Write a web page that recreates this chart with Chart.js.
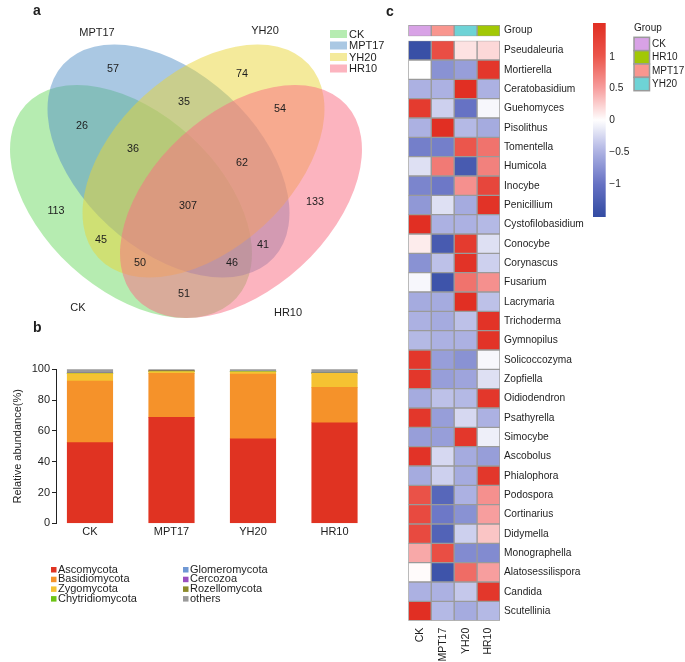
<!DOCTYPE html>
<html><head><meta charset="utf-8">
<script src="https://cdn.jsdelivr.net/npm/chart.js@4.4.1/dist/chart.umd.min.js"></script>
<style>
html,body{margin:0;padding:0;background:#fff;}
body{width:685px;height:662px;position:relative;overflow:hidden;}
canvas{position:absolute;}
</style></head><body>
<canvas id="cVenn" width="400" height="325" style="left:0;top:0"></canvas>
<canvas id="cBar" width="380" height="347" style="left:0;top:315px"></canvas>
<canvas id="cHeat" width="305" height="662" style="left:380px;top:0"></canvas>
<canvas id="cCbar" width="42" height="214" style="left:588px;top:13px"></canvas>
<canvas id="cGroup" width="305" height="40" style="left:380px;top:11px"></canvas>
<script>
// ---------------- DATA ----------------
const vennSets = ['CK', 'MPT17', 'YH20', 'HR10'];
// region counts: CK, MPT17, YH20, HR10 only; CK∩MPT17; MPT17∩YH20; YH20∩HR10; CK∩MPT17∩YH20; CK∩YH20;
// MPT17∩YH20∩HR10; MPT17∩HR10; all four; CK∩YH20∩HR10; CK∩MPT17∩HR10; CK∩HR10
const vennCounts = [113, 57, 74, 133, 26, 35, 54, 36, 45, 62, 41, 307, 50, 46, 51];

const sampleNames = ['CK', 'MPT17', 'YH20', 'HR10'];
const phyla = ['Ascomycota', 'Basidiomycota', 'Zygomycota', 'Chytridiomycota', 'Glomeromycota', 'Cercozoa', 'Rozellomycota', 'others'];
const ascomycota      = [52.4, 68.8, 54.9, 65.3];
const basidiomycota   = [40.0, 28.6, 42.0, 23.0];
const zygomycota      = [4.8, 1.2, 1.5, 9.1];
const chytridiomycota = [0.2, 0.1, 0.1, 0.1];
const glomeromycota   = [0.1, 0.05, 0.05, 0.1];
const cercozoa        = [0.05, 0.05, 0.05, 0.05];
const rozellomycota   = [0.1, 0.5, 0.1, 0.05];
const othersPhyla     = [2.35, 0.7, 1.3, 2.3];
const yTicksBar = [0, 20, 40, 60, 80, 100];

const genera = ['Pseudaleuria','Mortierella','Ceratobasidium','Guehomyces','Pisolithus','Tomentella','Humicola','Inocybe','Penicillium','Cystofilobasidium','Conocybe','Corynascus','Fusarium','Lacrymaria','Trichoderma','Gymnopilus','Solicoccozyma','Zopfiella','Oidiodendron','Psathyrella','Simocybe','Ascobolus','Phialophora','Podospora','Cortinarius','Didymella','Monographella','Alatosessilispora','Candida','Scutellinia'];
const zCK    = [-1.45, 0.0, -0.5, 1.35, -0.5, -0.9, -0.2, -0.85, -0.7, 1.5, 0.1, -0.75, -0.05, -0.55, -0.5, -0.45, 1.4, 1.4, -0.55, 1.4, -0.65, 1.45, -0.55, 1.05, 1.15, 1.15, 0.45, 0.02, -0.5, 1.5];
const zMPT17 = [1.1, -0.75, -0.5, -0.3, 1.5, -0.9, 0.75, -0.95, -0.2, -0.5, -1.3, -0.4, -1.4, -0.55, -0.55, -0.5, -0.65, -0.65, -0.4, -0.65, -0.65, -0.25, -0.3, -1.15, -0.95, -1.2, 1.1, -1.4, -0.5, -0.45];
const zYH20  = [0.15, -0.65, 1.5, -1.0, -0.45, 1.0, -1.3, 0.6, -0.55, -0.5, 1.35, 1.45, 0.8, 1.5, -0.4, -0.5, -0.75, -0.6, -0.45, -0.25, 1.4, -0.55, -0.55, -0.5, -0.75, -0.3, -0.8, 0.85, -0.35, -0.55];
const zHR10  = [0.2, 1.4, -0.5, -0.05, -0.55, 0.8, 0.7, 1.2, 1.45, -0.45, -0.2, -0.3, 0.6, -0.4, 1.45, 1.45, -0.05, -0.2, 1.4, -0.5, -0.1, -0.65, 1.4, 0.6, 0.5, 0.3, -0.8, 0.5, 1.4, -0.45];
const colorbarTicks = [-1, -0.5, 0, 0.5, 1];
const groupLegendOrder = ['CK', 'HR10', 'MPT17', 'YH20'];

// ---------------- STYLE / LAYOUT ----------------
const FONT = '"Liberation Sans", Arial, sans-serif';
const TXT = '#1e1e1e';
Chart.defaults.font.family = FONT;
Chart.defaults.color = TXT;

// Venn label anchor positions (in venn axis units = px)
const vennLabelPos = [[56,211],[113,69],[242,74],[315,202],[82,126],[184,102],[280,109],[133,149],[101,240],[242,163],[263,245],[188,206],[140,263],[232,263],[184,294]];
const vennNamePos = [[78,308],[97,33],[265,31],[288,313]];
const vennShape = {a: 142.9, b: 88.3};
const vennEllipses = [
  {cx: 131,   cy: 201.5, rot: 42.6,  color: 'rgba(110,217,100,0.5)'},
  {cx: 168.5, cy: 161,   rot: 42.6,  color: 'rgba(85,145,200,0.5)'},
  {cx: 203.5, cy: 161,   rot: -42.6, color: 'rgba(233,213,55,0.5)'},
  {cx: 241,   cy: 201.5, rot: -42.6, color: 'rgba(250,112,132,0.52)'}
];
const phylaColors = ['#E03322', '#F5922A', '#F5C232', '#6CC414', '#6F98D4', '#9A4FC0', '#8C8A2A', '#9A9A9A'];
const groupColors = {CK: '#D8A2E6', MPT17: '#F9968F', YH20: '#6ED3D6', HR10: '#A2C805'};
const rampStops = [[-1.5,[52,76,163]],[-1,[102,114,196]],[-0.5,[172,177,226]],[0,[255,255,255]],[0.5,[247,158,158]],[1,[235,86,76]],[1.5,[225,47,35]]];
function zColor(v) {
  if (v <= rampStops[0][0]) return 'rgb(' + rampStops[0][1].join(',') + ')';
  for (let i = 1; i < rampStops.length; i++) {
    if (v <= rampStops[i][0]) {
      const [v0, c0] = rampStops[i-1], [v1, c1] = rampStops[i];
      const t = (v - v0) / (v1 - v0);
      return 'rgb(' + c0.map((c, k) => Math.round(c + (c1[k] - c) * t)).join(',') + ')';
    }
  }
  return 'rgb(' + rampStops[rampStops.length-1][1].join(',') + ')';
}
const noInteract = {responsive: false, animation: false, events: []};

// ---------------- VENN (a) ----------------
const vennPlugin = {
  id: 'venn',
  beforeDatasetsDraw(chart) {
    const {ctx, scales: {x, y}} = chart;
    vennEllipses.forEach(e => {
      const cx = x.getPixelForValue(e.cx), cy = y.getPixelForValue(e.cy);
      const rx = x.getPixelForValue(e.cx + vennShape.a) - cx;
      const ry = Math.abs(y.getPixelForValue(e.cy + vennShape.b) - cy);
      ctx.save();
      ctx.beginPath();
      ctx.ellipse(cx, cy, rx, ry, e.rot * Math.PI / 180, 0, Math.PI * 2);
      ctx.fillStyle = e.color;
      ctx.fill();
      ctx.restore();
    });
  },
  afterDatasetsDraw(chart) {
    const {ctx} = chart;
    ctx.save();
    ctx.fillStyle = TXT;
    ctx.textAlign = 'center';
    ctx.textBaseline = 'middle';
    ctx.font = '10.8px ' + FONT;
    const meta0 = chart.getDatasetMeta(0);
    meta0.data.forEach((pt, i) => ctx.fillText(String(chart.data.datasets[0].data[i].n), pt.x, pt.y));
    ctx.font = '11px ' + FONT;
    const meta1 = chart.getDatasetMeta(1);
    meta1.data.forEach((pt, i) => ctx.fillText(vennSets[i], pt.x, pt.y));
    // panel letter
    ctx.font = 'bold 14px ' + FONT;
    ctx.textAlign = 'left';
    ctx.fillText('a', 33, 11);
    // legend
    ctx.font = '11px ' + FONT;
    vennSets.forEach((s, i) => {
      const yy = 34 + i * 11.5;
      ctx.fillStyle = vennEllipses[i].color;
      ctx.fillRect(330, yy - 4, 17, 8);
      ctx.fillStyle = TXT;
      ctx.fillText(s, 349, yy + 0.5);
    });
    ctx.restore();
  }
};
new Chart(document.getElementById('cVenn'), {
  type: 'scatter',
  data: {datasets: [
    {data: vennLabelPos.map((p, i) => ({x: p[0], y: p[1], n: vennCounts[i]})), pointRadius: 0},
    {data: vennNamePos.map(p => ({x: p[0], y: p[1]})), pointRadius: 0}
  ]},
  options: Object.assign({}, noInteract, {
    layout: {padding: 0},
    plugins: {legend: {display: false}, tooltip: {enabled: false}},
    scales: {
      x: {type: 'linear', display: false, min: 0, max: 400},
      y: {type: 'linear', display: false, min: 0, max: 325, reverse: true}
    }
  }),
  plugins: [vennPlugin]
});

// ---------------- STACKED BARS (b) ----------------
const phylaValues = [ascomycota, basidiomycota, zygomycota, chytridiomycota, glomeromycota, cercozoa, rozellomycota, othersPhyla];
const barLegendPlugin = {
  id: 'barLegend',
  afterDraw(chart) {
    const {ctx} = chart;
    ctx.save();
    ctx.font = 'bold 14px ' + FONT;
    ctx.fillStyle = TXT;
    ctx.textBaseline = 'middle';
    ctx.fillText('b', 33, 13);
    ctx.font = '11px ' + FONT;
    chart.data.datasets.forEach((ds, i) => {
      const col = Math.floor(i / 4), row = i % 4;
      const bx = col === 0 ? 51 : 183;
      const yy = 254.5 + row * 9.7;
      ctx.fillStyle = ds.backgroundColor;
      ctx.fillRect(bx, yy - 2.5, 5.5, 5.5);
      ctx.fillStyle = TXT;
      ctx.fillText(ds.label, bx + 7, yy);
    });
    ctx.restore();
  }
};
new Chart(document.getElementById('cBar'), {
  type: 'bar',
  data: {datasets: phyla.map((p, i) => ({
    label: p,
    data: phylaValues[i].map((v, j) => ({x: j, y: v})),
    backgroundColor: phylaColors[i],
    borderWidth: 0,
    barThickness: 45.5
  }))},
  options: Object.assign({}, noInteract, {
    layout: {padding: {left: 0, right: 8, top: 54.3, bottom: 118.7}},
    plugins: {legend: {display: false}, tooltip: {enabled: false}},
    scales: {
      x: {
        type: 'linear', stacked: true, min: -0.417, max: 3.46, offset: false, bounds: 'data',
        grid: {display: false, drawTicks: false}, border: {display: false},
        afterBuildTicks: s => { s.ticks = sampleNames.map((n, i) => ({value: i})); },
        ticks: {callback: v => sampleNames[v], font: {size: 11}, color: TXT, padding: 2, maxRotation: 0},
        afterFit: s => { s.height = 20; s.paddingLeft = 0; s.paddingRight = 0; }
      },
      y: {
        stacked: true, min: 0, max: 100,
        afterBuildTicks: s => { s.ticks = yTicksBar.map(v => ({value: v})); },
        grid: {display: true, drawOnChartArea: false, drawTicks: true, tickLength: 4, color: '#222'},
        border: {display: true, color: '#222', width: 1},
        ticks: {font: {size: 11}, color: TXT, padding: 2},
        title: {display: true, text: 'Relative abundance(%)', font: {size: 11}, color: TXT, padding: {top: 11.4, bottom: 0}},
        afterFit: s => { s.width = 56; }
      }
    }
  }),
  plugins: [barLegendPlugin]
});

// ---------------- HEATMAP (c) ----------------
const zCols = [zCK, zMPT17, zYH20, zHR10];
const heatExtras = {
  id: 'heatExtras',
  afterDraw(chart) {
    const {ctx} = chart;
    ctx.save();
    ctx.fillStyle = TXT;
    ctx.textBaseline = 'middle';
    ctx.font = 'bold 14px ' + FONT;
    ctx.fillText('c', 6, 12);
    ctx.font = '10px ' + FONT;
    ctx.fillText('Group', 254, 28.5);
    groupLegendOrder.forEach((g, i) => {
      const y0 = 37.3 + i * 13.35;
      ctx.fillStyle = groupColors[g];
      ctx.fillRect(254, y0, 15.5, 13.35);
      ctx.strokeStyle = '#9a9a9a';
      ctx.lineWidth = 1.5;
      ctx.strokeRect(254, y0, 15.5, 13.35);
      ctx.fillStyle = TXT;
      ctx.fillText(g, 272, y0 + 7);
    });
    ctx.restore();
  }
};
new Chart(document.getElementById('cHeat'), {
  type: 'bar',
  data: {
    labels: genera,
    datasets: sampleNames.map((s, j) => ({
      label: s,
      data: genera.map(() => [j, j + 1]),
      backgroundColor: zCols[j].map(zColor),
      borderColor: '#9a9a9a', borderWidth: 1, borderSkipped: false,
      grouped: false, categoryPercentage: 1, barPercentage: 1
    }))
  },
  options: Object.assign({}, noInteract, {
    indexAxis: 'y',
    layout: {padding: {left: 28.3, top: 40.7, right: 0, bottom: 1.3}},
    plugins: {legend: {display: false}, tooltip: {enabled: false}},
    scales: {
      x: {
        type: 'linear', min: 0, max: 4, position: 'bottom',
        grid: {display: false, drawTicks: false}, border: {display: false},
        afterBuildTicks: s => { s.ticks = sampleNames.map((n, i) => ({value: i + 0.5})); },
        ticks: {callback: v => sampleNames[Math.floor(v)], minRotation: 90, maxRotation: 90, padding: 7, font: {size: 10.5}, color: TXT},
        afterFit: s => { s.height = 40; }
      },
      y: {
        type: 'category', position: 'right',
        grid: {display: false, drawTicks: false}, border: {display: false},
        ticks: {padding: 4, font: {size: 10.2}, color: TXT, autoSkip: false},
        afterFit: s => { s.width = 185; }
      }
    }
  }),
  plugins: [heatExtras]
});

// group annotation row
new Chart(document.getElementById('cGroup'), {
  type: 'bar',
  data: {
    labels: ['Group'],
    datasets: sampleNames.map((s, j) => ({
      label: s, data: [[j, j + 1]],
      backgroundColor: groupColors[s], borderColor: '#9a9a9a', borderWidth: 1, borderSkipped: false,
      grouped: false, categoryPercentage: 1, barPercentage: 1
    }))
  },
  options: Object.assign({}, noInteract, {
    indexAxis: 'y',
    layout: {padding: {left: 28.3, top: 14, right: 0, bottom: 14.7}},
    plugins: {legend: {display: false}, tooltip: {enabled: false}},
    scales: {
      x: {type: 'linear', min: 0, max: 4, display: false},
      y: {
        type: 'category', position: 'right',
        grid: {display: false, drawTicks: false}, border: {display: false},
        ticks: {padding: 4, font: {size: 10.2}, color: TXT},
        afterFit: s => { s.width = 185; }
      }
    }
  })
});

// colour bar
new Chart(document.getElementById('cCbar'), {
  type: 'bar',
  data: {
    labels: [''],
    datasets: [{
      data: [[-1.52, 1.53]],
      borderWidth: 0, categoryPercentage: 1, barPercentage: 1,
      backgroundColor: (c) => {
        const ch = c.chart, area = ch.chartArea;
        if (!area) return '#ccc';
        const ys = ch.scales.y;
        const g = ch.ctx.createLinearGradient(0, ys.getPixelForValue(-1.52), 0, ys.getPixelForValue(1.53));
        for (let k = 0; k <= 30; k++) {
          const v = -1.52 + (3.05 * k / 30);
          g.addColorStop(k / 30, zColor(v));
        }
        return g;
      }
    }]
  },
  options: Object.assign({}, noInteract, {
    layout: {padding: {left: 5, top: 10, right: 0, bottom: 10}},
    plugins: {legend: {display: false}, tooltip: {enabled: false}},
    scales: {
      x: {display: false},
      y: {
        type: 'linear', position: 'right', min: -1.52, max: 1.53,
        grid: {display: false, drawTicks: false}, border: {display: false},
        afterBuildTicks: s => { s.ticks = colorbarTicks.map(v => ({value: v})); },
        ticks: {padding: 3.5, font: {size: 10.2}, color: TXT, callback: v => String(v).replace('-', '\u2212')},
        afterFit: s => { s.width = 24.3; }
      }
    }
  })
});
</script>
</body></html>
